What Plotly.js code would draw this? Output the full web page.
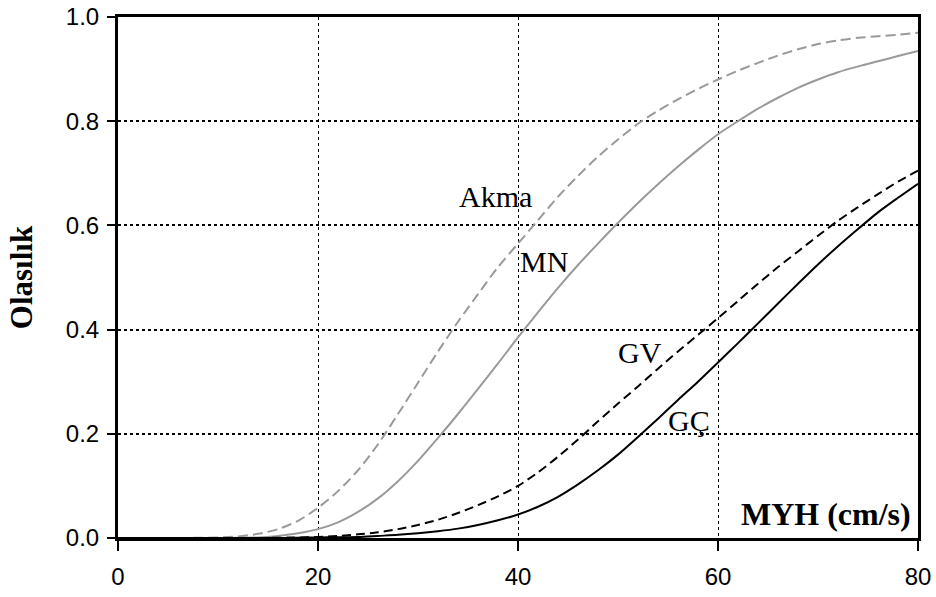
<!DOCTYPE html>
<html>
<head>
<meta charset="utf-8">
<script src="https://cdn.plot.ly/plotly-3.0.1.min.js"></script>
<style>html,body{margin:0;padding:0;background:#fff;}#chart{width:936px;height:597px;}</style>
</head>
<body>
<div id="chart"></div>
<script>
// MYH (cm/s) values
const xVals = [0, 2, 4, 6, 8, 10, 12, 14, 16, 18, 20, 22, 24, 26, 28, 30, 32, 34, 36, 38, 40,
               42, 44, 46, 48, 50, 52, 54, 56, 58, 60, 62, 64, 66, 68, 70, 72, 74, 76, 78, 80];

const akma = [0, 0, 0, 0, 0.0005, 0.001, 0.003, 0.008, 0.017, 0.033, 0.058, 0.09, 0.13, 0.18, 0.238, 0.298, 0.358, 0.415, 0.468, 0.52, 0.565,
              0.61, 0.655, 0.695, 0.732, 0.765, 0.795, 0.82, 0.842, 0.862, 0.88, 0.897, 0.912, 0.926, 0.938, 0.948, 0.955, 0.96, 0.963, 0.966, 0.97];

const mn = [0, 0, 0, 0, 0, 0, 0.0005, 0.001, 0.004, 0.009, 0.017, 0.03, 0.05, 0.076, 0.109, 0.148, 0.192, 0.238, 0.286, 0.335, 0.385,
            0.433, 0.48, 0.524, 0.565, 0.605, 0.643, 0.679, 0.713, 0.745, 0.775, 0.80, 0.824, 0.845, 0.864, 0.88, 0.894, 0.905, 0.915, 0.925, 0.935];

const gv = [0, 0, 0, 0, 0, 0, 0, 0, 0.0005, 0.001, 0.002, 0.004, 0.007, 0.011, 0.017, 0.025, 0.035, 0.048, 0.063, 0.08, 0.10,
            0.126, 0.156, 0.189, 0.224, 0.258, 0.291, 0.325, 0.358, 0.39, 0.422, 0.455, 0.488, 0.52, 0.55, 0.58, 0.609, 0.635, 0.66, 0.684, 0.705];

const gc = [0, 0, 0, 0, 0, 0, 0, 0, 0, 0.0005, 0.001, 0.0015, 0.002, 0.004, 0.006, 0.009, 0.013, 0.018, 0.025, 0.034, 0.045,
            0.06, 0.079, 0.103, 0.13, 0.16, 0.194, 0.229, 0.265, 0.30, 0.337, 0.374, 0.412, 0.45, 0.488, 0.525, 0.56, 0.593, 0.625, 0.653, 0.68];

const seriesNames = ["Akma", "MN", "GV", "GÇ"];
const xTicks = [0, 20, 40, 60, 80];
const yTicks = [0, 0.2, 0.4, 0.6, 0.8, 1.0];
const yTickText = ["0.0", "0.2", "0.4", "0.6", "0.8", "1.0"];

// label positions (data coordinates)
const labelX = [37.7, 42.6, 52.2, 57.1];
const labelY = [0.655, 0.53, 0.356, 0.226];

const gray = "#9a9a9a";
const traces = [
  {x: xVals, y: akma, name: seriesNames[0], mode: "lines", line: {color: gray, width: 2, dash: "10px,5px", shape: "spline", smoothing: 0.8}},
  {x: xVals, y: mn, name: seriesNames[1], mode: "lines", line: {color: gray, width: 2, shape: "spline", smoothing: 0.8}},
  {x: xVals, y: gv, name: seriesNames[2], mode: "lines", line: {color: "#000", width: 2, dash: "9px,5px", shape: "spline", smoothing: 0.8}},
  {x: xVals, y: gc, name: seriesNames[3], mode: "lines", line: {color: "#000", width: 2, shape: "spline", smoothing: 0.8}}
];

const annotations = seriesNames.map((n, i) => ({
  x: labelX[i], y: labelY[i], xref: "x", yref: "y", text: n, showarrow: false,
  xanchor: "center", yanchor: "middle",
  font: {family: "Liberation Serif, Times New Roman, serif", size: 30, color: "#000"}
}));
annotations.push({
  x: 79.5, y: 0.047, xref: "x", yref: "y", text: "<b>MYH (cm/s)</b>", showarrow: false,
  xanchor: "right", yanchor: "middle",
  font: {family: "Liberation Serif, Times New Roman, serif", size: 32, color: "#000"}
});

const layout = {
  width: 936, height: 597,
  margin: {l: 118, r: 18, t: 17, b: 59},
  paper_bgcolor: "#fff", plot_bgcolor: "#fff",
  showlegend: false,
  xaxis: {
    range: [0, 80], tickvals: xTicks, ticktext: xTicks.map(String),
    showline: true, linecolor: "#000", linewidth: 3, mirror: true,
    ticks: "outside", ticklen: 10, tickwidth: 2, tickcolor: "#000",
    ticklabelstandoff: 5,
    showgrid: true, gridcolor: "#000", gridwidth: 1, griddash: "dot",
    zeroline: false,
    tickfont: {family: "Liberation Sans, Arial, sans-serif", size: 24, color: "#000"}
  },
  yaxis: {
    range: [0, 1], tickvals: yTicks, ticktext: yTickText,
    showline: true, linecolor: "#000", linewidth: 3, mirror: true,
    ticks: "outside", ticklen: 8, tickwidth: 2, tickcolor: "#000",
    ticklabelstandoff: 3,
    showgrid: true, gridcolor: "#000", gridwidth: 2, griddash: "dot",
    zeroline: false,
    tickfont: {family: "Liberation Sans, Arial, sans-serif", size: 24, color: "#000"},
    title: {text: "<b>Olasılık</b>", standoff: 24,
            font: {family: "Liberation Serif, Times New Roman, serif", size: 31, color: "#000"}}
  },
  annotations: annotations
};

Plotly.newPlot("chart", traces, layout, {staticPlot: true, displayModeBar: false});
</script>
</body>
</html>
